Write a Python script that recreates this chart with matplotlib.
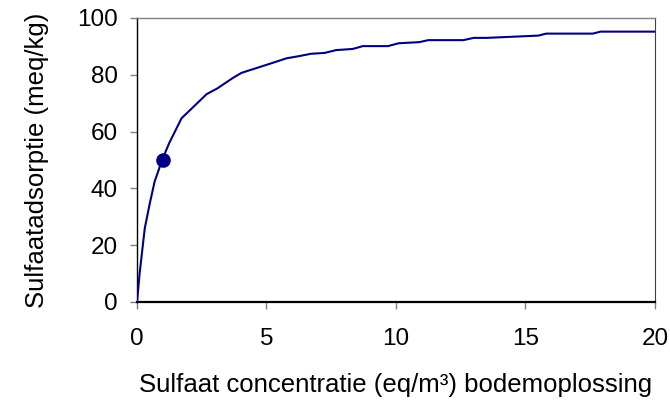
import matplotlib
matplotlib.use("Agg")
import matplotlib.pyplot as plt

plt.rcParams['font.family'] = ['Liberation Sans', 'DejaVu Sans']

# Curve
conc = [0, 0.1, 0.2, 0.3, 0.5, 0.68, 0.97, 1.24, 1.72, 2.69, 3.1, 3.72, 4.04,
        5.0, 5.77, 6.27, 6.72, 7.24, 7.69, 8.33, 8.72, 9.69, 10.1, 10.9, 11.24,
        12.1, 12.6, 13.0, 13.5, 15.5, 15.8, 17.6, 17.9, 20]
sorp = [0, 10, 18, 26, 35, 42.4, 50, 55.9, 64.7, 73.2, 75.2, 79, 80.7,
        83.5, 85.8, 86.6, 87.4, 87.7, 88.7, 89.1, 90.1, 90.1, 91.1, 91.5, 92.2,
        92.2, 92.2, 93.0, 93.0, 93.8, 94.5, 94.5, 95.2, 95.2]

# Highlighted point
pt_x = [1]
pt_y = [50]

xticks = [0, 5, 10, 15, 20]
yticks = [0, 20, 40, 60, 80, 100]

fig = plt.figure(figsize=(6.7, 4), dpi=100)
ax = fig.add_axes([0.2045, 0.245, 0.773, 0.71])

ax.plot(conc, sorp, color='#000080', lw=1.5, zorder=3)
ax.plot(pt_x, pt_y, 'o', color='#000080', ms=9.5, zorder=4, clip_on=False)

ax.set_xlim(0, 20)
ax.set_ylim(0, 100)
ax.set_xticks(xticks)
ax.set_yticks(yticks)

ax.spines['left'].set_color('black')
ax.spines['left'].set_linewidth(1.0)
ax.spines['bottom'].set_color('black')
ax.spines['bottom'].set_linewidth(1.6)
ax.spines['top'].set_color('#808080')
ax.spines['top'].set_linewidth(1.0)
ax.spines['right'].set_color('#404040')
ax.spines['right'].set_linewidth(0.8)

ax.tick_params(axis='both', direction='out', length=5, width=1.0, color='#808080',
               labelsize=17.5, labelcolor='black')
ax.tick_params(axis='x', pad=14)
ax.tick_params(axis='y', pad=9)

ax.set_xlabel('Sulfaat concentratie (eq/m³) bodemoplossing', fontsize=18.5, labelpad=16)
ax.set_ylabel('Sulfaatadsorptie (meq/kg)', fontsize=18.5, labelpad=20)

fig.savefig('out.png', dpi=100)
